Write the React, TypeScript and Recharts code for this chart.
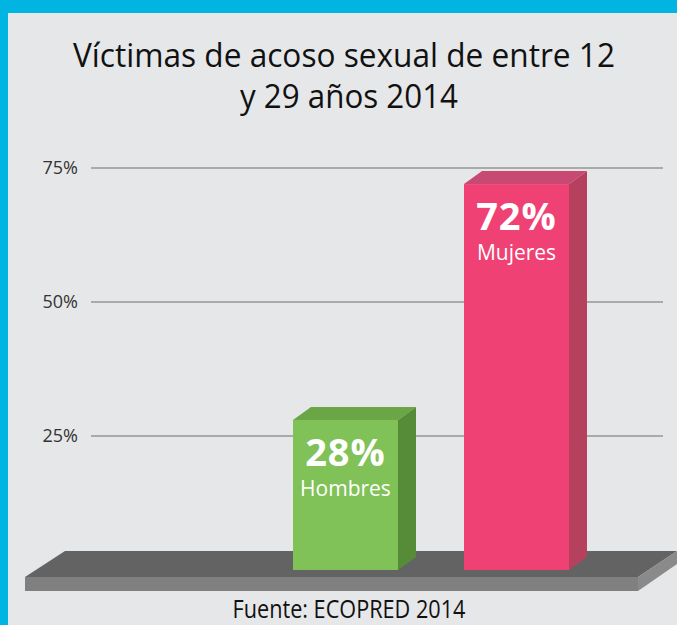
import { Bar, BarChart, CartesianGrid, LabelList, XAxis, YAxis } from "recharts";

// datos
const generos = ["Hombres", "Mujeres"];
const porcentajes = [28, 72];
const ticksY = [25, 50, 75];

const titulo1 = "Víctimas de acoso sexual de entre 12";
const titulo2 = "y 29 años 2014";
const fuente = "Fuente: ECOPRED 2014";

const colores = [
  { front: "#80c257", side: "#568c38", top: "#6aa646" },
  { front: "#ef4174", side: "#b6415f", top: "#c84a72" },
];

const datos = generos.map((g, i) => ({ genero: g, valor: porcentajes[i] }));

const FONT = "'Open Sans', 'Noto Sans', sans-serif";
const W = 677;
const H = 625;

function Barra3D(props: any) {
  const { x, y, width, height, index } = props;
  const c = colores[index] ?? colores[0];
  const dx = 18;
  const dy = 13;
  return (
    <g>
      <polygon
        points={`${x},${y} ${x + dx},${y - dy} ${x + width + dx},${y - dy} ${x + width},${y}`}
        fill={c.top}
      />
      <polygon
        points={`${x + width},${y} ${x + width + dx},${y - dy} ${x + width + dx},${y + height - dy} ${x + width},${y + height}`}
        fill={c.side}
      />
      <rect x={x} y={y} width={width} height={height} fill={c.front} />
    </g>
  );
}

function EtiquetaValor(props: any) {
  const { x, y, width, value } = props;
  return (
    <text
      x={x + width / 2}
      y={y + 46}
      textAnchor="middle"
      fill="#fff"
      fontFamily={FONT}
      fontWeight={700}
      fontSize={38}
      letterSpacing={1}
    >
      {value}%
    </text>
  );
}

function EtiquetaGenero(props: any) {
  const { x, y, width, value } = props;
  return (
    <text
      x={x + width / 2}
      y={y + 76}
      textAnchor="middle"
      fill="#fff"
      fontFamily={FONT}
      fontSize={21}
    >
      {value}
    </text>
  );
}

function Decorado() {
  // piso 3D y textos
  return (
    <svg width={W} height={H} style={{ position: "absolute", left: 0, top: 0 }}>
      <polygon points="25,577 65,551 677,551 638,577" fill="#636363" />
      <rect x={25} y={577} width={613} height={14} fill="#808080" />
      <polygon points="638,577 677,551 677,564 638,591" fill="#8a8a8a" />
      <text
        x={344}
        y={67}
        textAnchor="middle"
        fontFamily={FONT}
        fontSize={33}
        fill="#111"
        textLength={542}
        lengthAdjust="spacingAndGlyphs"
      >
        {titulo1}
      </text>
      <text
        x={349}
        y={108}
        textAnchor="middle"
        fontFamily={FONT}
        fontSize={33}
        fill="#111"
        textLength={218}
        lengthAdjust="spacingAndGlyphs"
      >
        {titulo2}
      </text>
      <text
        x={349}
        y={618}
        textAnchor="middle"
        fontFamily={FONT}
        fontSize={25}
        fill="#111"
        textLength={233}
        lengthAdjust="spacingAndGlyphs"
      >
        {fuente}
      </text>
    </svg>
  );
}

export default function App() {
  return (
    <div
      style={{
        position: "absolute",
        left: 0,
        top: 0,
        width: W,
        height: H,
        background: "#00b5e2",
        overflow: "hidden",
      }}
    >
      <div
        style={{
          position: "absolute",
          left: 8,
          top: 13,
          width: W - 8,
          height: H - 13,
          background: "#e6e7e9",
        }}
      />
      <Decorado />
      <div style={{ position: "absolute", left: 0, top: 0 }}>
        <BarChart
          width={W}
          height={H}
          data={datos}
          margin={{ top: 168, right: 14, bottom: 55, left: 0 }}
        >
          <CartesianGrid
            vertical={false}
            horizontalValues={ticksY}
            stroke="#aaaaaa"
            strokeWidth={2}
          />
          <XAxis dataKey="genero" hide padding={{ left: 169, right: 61 }} />
          <YAxis
            width={91}
            domain={[0, 75]}
            ticks={ticksY}
            tickFormatter={(v) => `${v}%`}
            axisLine={false}
            tickLine={false}
            tickSize={0}
            tickMargin={13}
            tick={{ fill: "#333", fontSize: 18, fontFamily: FONT }}
          />
          <Bar
            dataKey="valor"
            barSize={105}
            shape={<Barra3D />}
            isAnimationActive={false}
          >
            <LabelList dataKey="valor" content={<EtiquetaValor />} />
            <LabelList dataKey="genero" content={<EtiquetaGenero />} />
          </Bar>
        </BarChart>
      </div>
    </div>
  );
}
